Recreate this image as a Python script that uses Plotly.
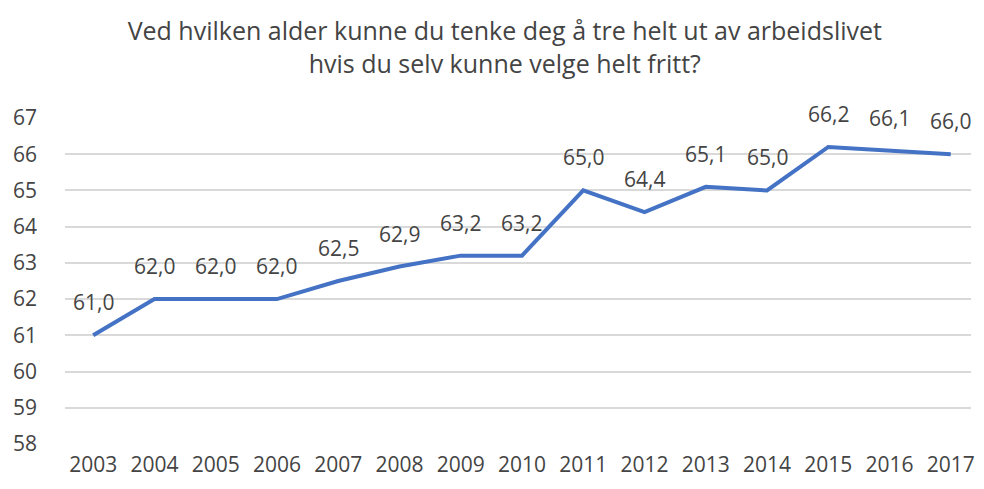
import plotly.graph_objects as go

years = ['2003', '2004', '2005', '2006', '2007', '2008', '2009', '2010',
         '2011', '2012', '2013', '2014', '2015', '2016', '2017']
alder = [61.0, 62.0, 62.0, 62.0, 62.5, 62.9, 63.2, 63.2,
         65.0, 64.4, 65.1, 65.0, 66.2, 66.1, 66.0]
y_ticks = [58, 59, 60, 61, 62, 63, 64, 65, 66, 67]

TEXT = '#444444'
LINE = '#4472C4'
FONT = 'Open Sans'

fig = go.Figure()
fig.add_trace(go.Scatter(
    x=years, y=alder, mode='lines',
    line=dict(color=LINE, width=4),
    showlegend=False, hoverinfo='x+y'
))

# data labels over each point, decimal comma
# (category index as x, a '2003' string would be read as a number)
for i, v in enumerate(alder):
    fig.add_annotation(
        x=i, y=v, xref='x', yref='y',
        text=f'{v:.1f}'.replace('.', ','),
        showarrow=False, yshift=33,
        font=dict(family=FONT, size=21, color=TEXT)
    )

fig.update_layout(
    title=dict(
        text='Ved hvilken alder kunne du tenke deg å tre helt ut av arbeidslivet<br>hvis du selv kunne velge helt fritt?',
        x=0.513, xanchor='center', y=0.918, yanchor='top',
        font=dict(family=FONT, size=25, color=TEXT)
    ),
    width=984, height=489,
    margin=dict(l=65, r=9, t=118, b=45),
    paper_bgcolor='white', plot_bgcolor='white',
    font=dict(family=FONT, color=TEXT),
    xaxis=dict(
        type='category', range=[-0.46, 14.33],
        showgrid=False, showline=False, zeroline=False,
        tickfont=dict(size=21, color=TEXT), ticks='',
        ticklabelstandoff=6
    ),
    yaxis=dict(
        range=[58, 67], tickvals=y_ticks,
        showgrid=True, gridcolor='#D9D9D9', gridwidth=1.5,
        zeroline=False, showline=False,
        tickfont=dict(size=21, color=TEXT), ticks='',
        ticklabelstandoff=27
    )
)

fig.write_html('out.html', config={'displayModeBar': False},
               post_script="document.body.style.margin='0';")
